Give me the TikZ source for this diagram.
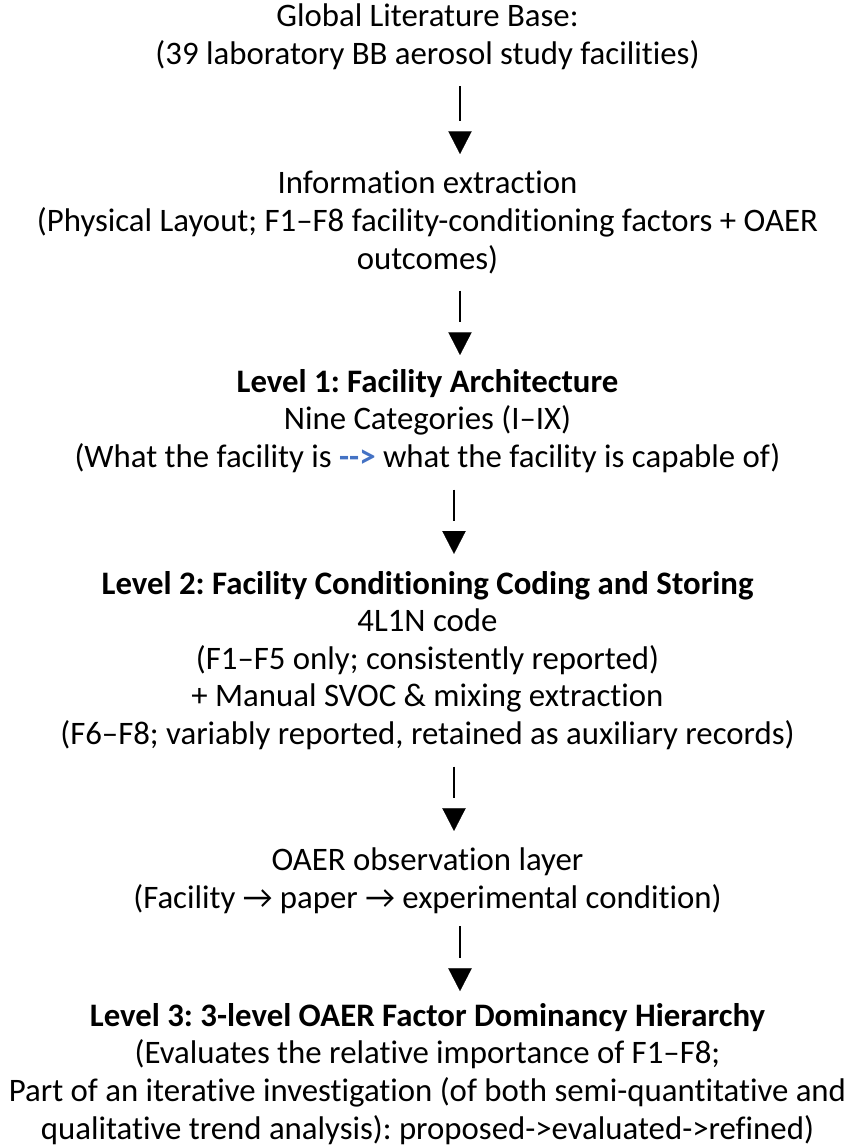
\documentclass[tikz,border=0pt]{standalone}
\usepackage{fontspec}
\setmainfont{Carlito}[Ligatures={TeX,NoCommon}]
\usetikzlibrary{arrows.meta, positioning}
\definecolor{linkblue}{HTML}{4472C4}
\frenchspacing

\begin{document}
\begin{tikzpicture}[
    x=0.75pt, y=-0.75pt,
    node distance=74pt,
    head gap/.store in=\flowheadgap, head gap=12.8pt,
    stage/.style={
        align=center, inner sep=0pt,
        font=\fontsize{24.6}{28.2}\selectfont
    },
    flow/.style={
        line width=1.4pt, shorten <=12.5pt, shorten >=37.3pt,
        preaction={draw=white, line width=0.1pt, shorten >=\flowheadgap,
                   -{Triangle[length=17pt, width=17.5pt, color=black]}}
    }
]
\useasboundingbox (0,0) rectangle (855,1146);
\coordinate (axis) at (460,0);
\coordinate (axisb) at (454,0);

% --- Sources ---
\node[stage, anchor=north] (base) at (427.5,3.5)
      {Global Literature Base:\\(39 laboratory BB aerosol study facilities)};
\node[stage, below=76pt of base] (extract)
      {Information extraction\\(Physical Layout; F1–F8 facility-conditioning factors + OAER\\outcomes)};

% --- Levels ---
\node[stage, below=71.3pt of extract] (lvlone)
      {\textbf{Level 1: Facility Architecture}\\Nine Categories (I–IX)\\(What the facility is
       \textcolor{linkblue}{\textbf{-{}-{}>}} what the facility is capable of)};
\node[stage, below=73.4pt of lvlone] (lvltwo)
      {\textbf{Level 2: Facility Conditioning Coding and Storing}\\4L1N code\\(F1–F5 only; consistently reported)\\+ Manual SVOC \& mixing extraction\\(F6–F8; variably reported, retained as auxiliary records)};
\node[stage, below=73.4pt of lvltwo] (obs)
      {OAER observation layer\\(Facility → paper → experimental condition)};
\node[stage, below=66.7pt of obs] (lvlthree)
      {\textbf{Level 3: 3-level OAER Factor Dominancy Hierarchy}\\(Evaluates the relative importance of F1–F8;\\Part of an iterative investigation (of both semi-quantitative and\\qualitative trend analysis): proposed->evaluated->refined)};

% --- Arrows ---
\draw[flow] (base.south -| axis) -- (extract.north -| axis);
\draw[flow, shorten >=35pt, head gap=10.5pt] (extract.south -| axis) -- (lvlone.north -| axis);
\draw[flow] (lvlone.south -| axisb) -- (lvltwo.north -| axisb);
\draw[flow] (lvltwo.south -| axisb) -- (obs.north -| axisb);
\draw[flow, shorten <=9pt, shorten >=33.5pt, head gap=9pt] (obs.south -| axis) -- (lvlthree.north -| axis);
\end{tikzpicture}
\end{document}
